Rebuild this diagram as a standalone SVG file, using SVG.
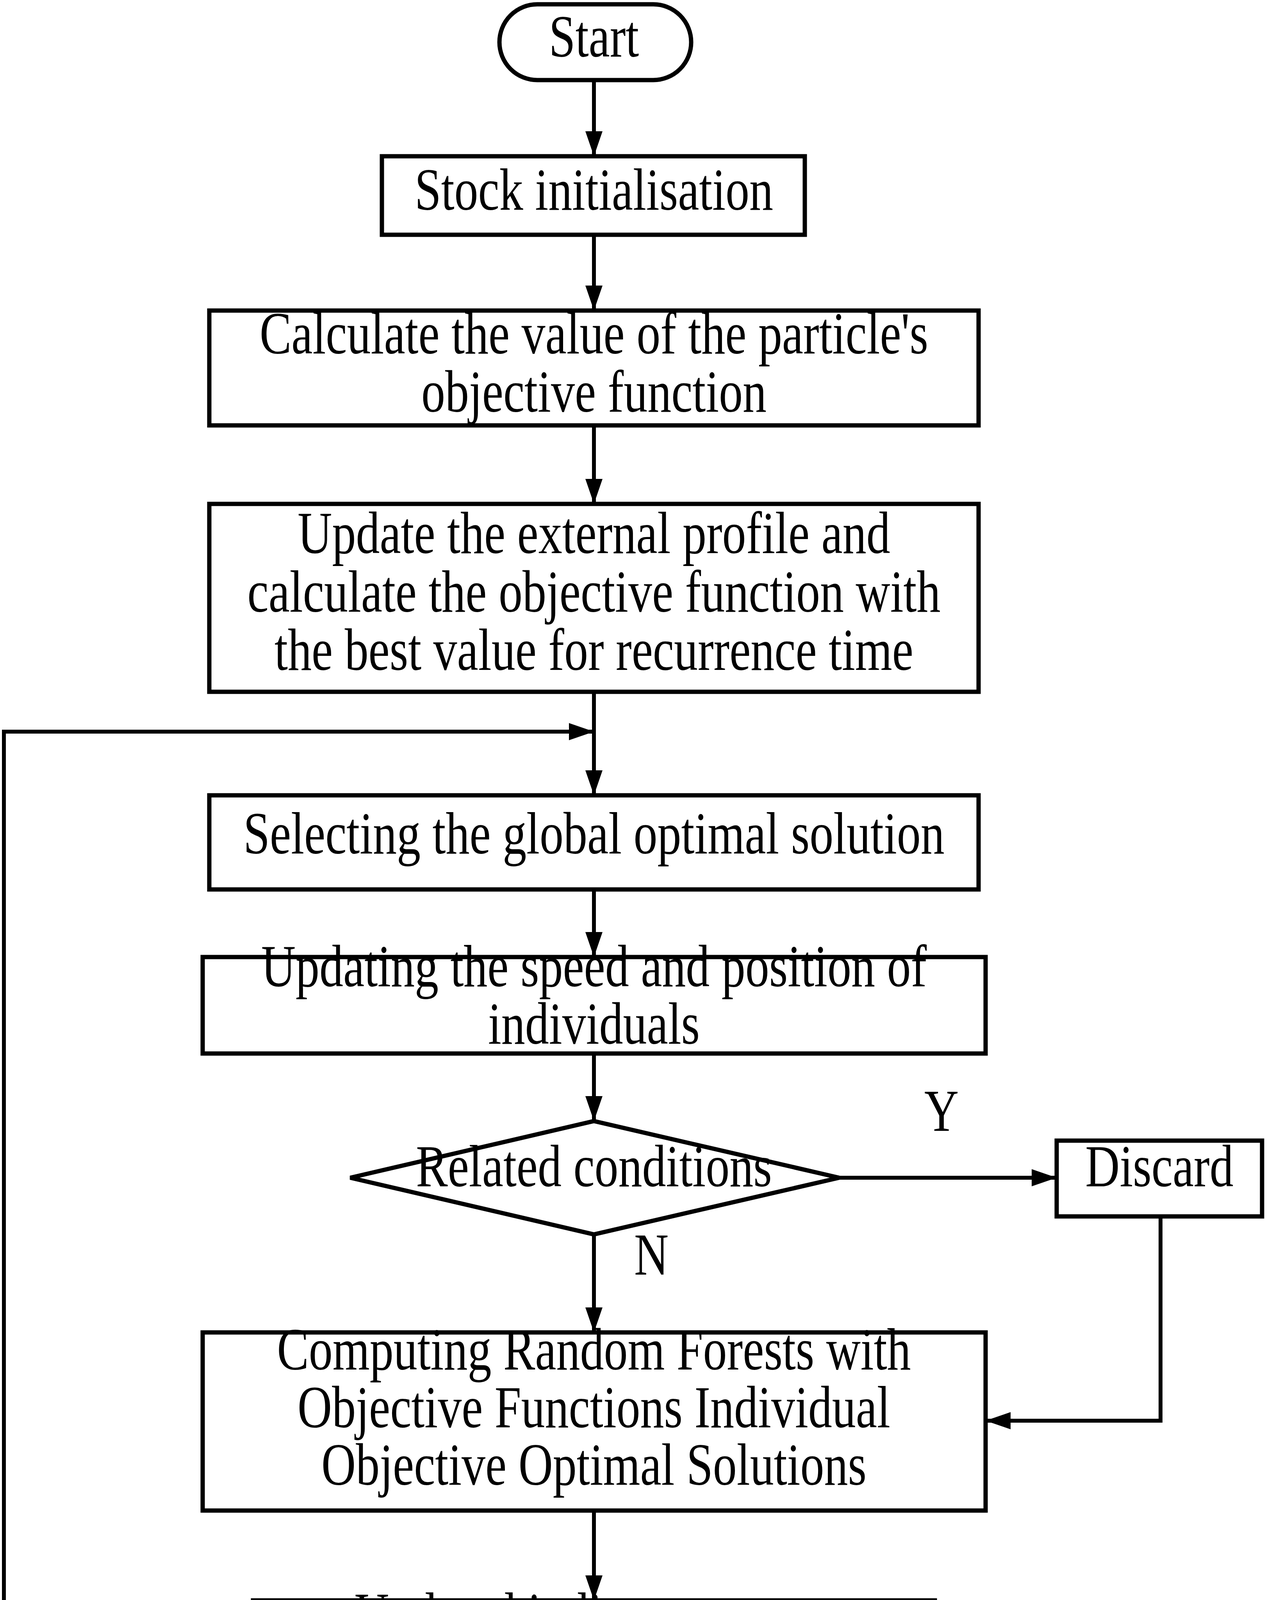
<svg xmlns="http://www.w3.org/2000/svg" width="3260" height="5526" viewBox="0 0 3260 5526">
<style>
.s{fill:#fff;stroke:#000;stroke-width:11}
.c{fill:none;stroke:#000;stroke-width:10}
text{font-family:"Liberation Serif","Times New Roman",serif;font-size:122px;text-anchor:middle;fill:#000}
</style>
<defs>
<marker id="a" markerUnits="userSpaceOnUse" markerWidth="64" markerHeight="44" refX="64" refY="22" orient="auto" viewBox="0 0 64 44">
<path d="M0,0 L64,22 L0,44 Z" fill="#000"/>
</marker>
</defs>
<rect width="3260" height="5526" fill="#fff"/>
<g id="connectors">
<path class="c" d="M1521,205 V400" marker-end="url(#a)"/>
<path class="c" d="M1521,601 V795" marker-end="url(#a)"/>
<path class="c" d="M1521,1089 V1290" marker-end="url(#a)"/>
<path class="c" d="M1521,1771 V2036" marker-end="url(#a)"/>
<path class="c" d="M1521,2277 V2450" marker-end="url(#a)"/>
<path class="c" d="M1521,2697 V2870" marker-end="url(#a)"/>
<path class="c" d="M2149,3015 H2706" marker-end="url(#a)"/>
<path class="c" d="M1521,3160 V3411" marker-end="url(#a)"/>
<path class="c" d="M2972,3114 V3637 H2524" marker-end="url(#a)"/>
<path class="c" d="M1521,3867 V4097" marker-end="url(#a)"/>
<path class="c" d="M1521,4390 V4624" marker-end="url(#a)"/>
<path class="c" d="M1521,5069 V5313" marker-end="url(#a)"/>
<path class="c" d="M883,4846 H10 V1873 H1521" marker-end="url(#a)"/>
<text transform="translate(2411,2895) scale(1,1.25)">Y</text>
<text transform="translate(1668,3263) scale(1,1.25)">N</text>
<text transform="translate(484,4560) scale(1,1.25)">N</text>
<text transform="translate(1654,5127) scale(1,1.25)">Y</text>
</g>
<g id="start"><rect class="s" x="1279" y="11" width="491" height="194" rx="97"/><text transform="translate(1521,145) scale(1,1.25)">Start</text></g>
<g id="stock"><rect class="s" x="978" y="400" width="1083" height="201"/><text transform="translate(1521,537) scale(1,1.25)">Stock initialisation</text></g>
<g id="calc"><rect class="s" x="536" y="795" width="1970" height="294"/><text transform="translate(1521,905) scale(1,1.25)">Calculate the value of the particle's</text><text transform="translate(1521,1054) scale(1,1.25)">objective function</text></g>
<g id="update"><rect class="s" x="536" y="1290" width="1970" height="481"/><text transform="translate(1521,1416) scale(1,1.25)">Update the external profile and</text><text transform="translate(1521,1566) scale(1,1.25)">calculate the objective function with</text><text transform="translate(1521,1715) scale(1,1.25)">the best value for recurrence time</text></g>
<g id="select"><rect class="s" x="536" y="2036" width="1970" height="241"/><text transform="translate(1521,2185) scale(1,1.25)">Selecting the global optimal solution</text></g>
<g id="speed"><rect class="s" x="519" y="2450" width="2005" height="247"/><text transform="translate(1521,2525) scale(1,1.25)">Updating the speed and position of</text><text transform="translate(1521,2672) scale(1,1.25)">individuals</text></g>
<g id="related"><polygon class="s" points="1521,2870 2149,3015 1521,3160 897,3015"/><text transform="translate(1521,3037) scale(1,1.25)">Related conditions</text></g>
<g id="discard"><rect class="s" x="2706" y="2920" width="526" height="194"/><text transform="translate(2969,3037) scale(1,1.25)">Discard</text></g>
<g id="forest"><rect class="s" x="519" y="3411" width="2005" height="456"/><text transform="translate(1521,3506) scale(1,1.25)">Computing Random Forests with</text><text transform="translate(1521,3654) scale(1,1.25)">Objective Functions Individual</text><text transform="translate(1521,3801) scale(1,1.25)">Objective Optimal Solutions</text></g>
<g id="indicator"><rect class="s" x="648" y="4097" width="1746" height="293"/><text transform="translate(1521,4183) scale(1,1.25)">Updated indicator cancer</text><text transform="translate(1521,4327) scale(1,1.25)">recurrence time optimal solution</text></g>
<g id="term"><polygon class="s" points="1521,4624 2152,4846 1521,5069 883,4846"/><text transform="translate(1521,4779) scale(1,1.25)">Termination</text><text transform="translate(1521,4923) scale(1,1.25)">conditions</text></g>
<g id="end"><rect class="s" x="1279" y="5313" width="491" height="201" rx="100"/><text transform="translate(1521,5413) scale(1,1.25)">End</text></g>
</svg>
